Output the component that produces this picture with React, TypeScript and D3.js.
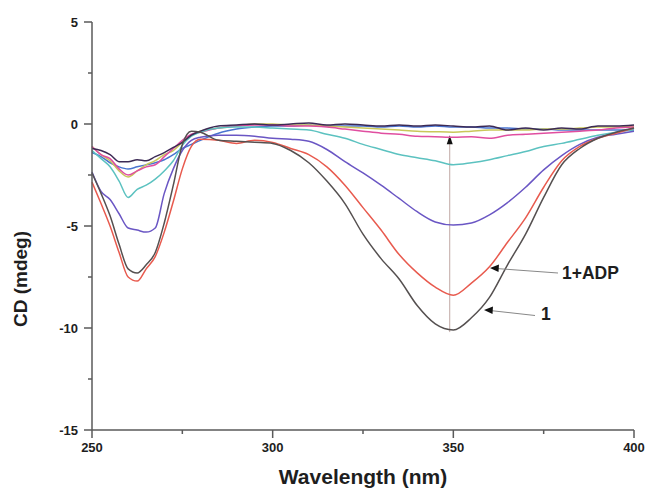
import React from "react";
import * as d3 from "d3";

const wavelengths = [250, 252.5, 255, 257.5, 260, 262.5, 265, 267.5, 270, 272.5, 275, 277.5, 280, 285, 290, 295, 300, 305, 310, 315, 320, 325, 330, 335, 340, 345, 350, 355, 360, 365, 370, 375, 380, 385, 390, 395, 400];

const seriesBlue = [-1.4, -1.6, -1.9, -2.1, -2.2, -2.1, -2.0, -1.9, -1.75, -1.5, -1.2, -1.0, -0.8, -0.45, -0.25, -0.15, -0.1, -0.1, -0.05, -0.1, -0.1, -0.1, -0.15, -0.1, -0.15, -0.1, -0.15, -0.15, -0.2, -0.2, -0.25, -0.25, -0.3, -0.3, -0.3, -0.3, -0.3];
const seriesOlive = [-1.1, -1.5, -1.8, -2.3, -2.6, -2.3, -2.0, -1.8, -1.5, -1.3, -0.9, -0.55, -0.35, -0.2, -0.1, 0, 0, -0.05, -0.05, -0.1, -0.15, -0.2, -0.25, -0.3, -0.35, -0.38, -0.4, -0.35, -0.3, -0.3, -0.3, -0.25, -0.25, -0.2, -0.15, -0.15, -0.1];
const seriesPink = [-1.1, -1.5, -1.7, -2.2, -2.5, -2.3, -2.1, -2.0, -1.6, -1.2, -0.8, -0.5, -0.4, -0.2, -0.1, -0.05, -0.05, -0.1, -0.1, -0.15, -0.25, -0.35, -0.45, -0.5, -0.6, -0.62, -0.65, -0.62, -0.7, -0.55, -0.5, -0.45, -0.4, -0.35, -0.3, -0.2, -0.15];
const seriesTeal = [-1.3, -1.7, -2.1, -2.8, -3.6, -3.2, -3.0, -2.7, -2.3, -1.8, -1.05, -0.6, -0.4, -0.2, -0.15, -0.15, -0.2, -0.25, -0.3, -0.5, -0.7, -1.0, -1.25, -1.5, -1.65, -1.8, -2.0, -1.9, -1.75, -1.55, -1.35, -1.1, -0.95, -0.75, -0.55, -0.4, -0.3];
const seriesViolet = [-2.35, -3.3, -3.7, -4.4, -5.1, -5.2, -5.3, -5.1, -3.4, -2.2, -1.3, -0.8, -0.65, -0.55, -0.55, -0.6, -0.7, -0.75, -0.85, -1.25, -1.85, -2.4, -3.0, -3.65, -4.3, -4.8, -4.95, -4.85, -4.45, -3.85, -3.1, -2.25, -1.55, -1.0, -0.65, -0.5, -0.35];
const seriesTop = [-1.2, -1.3, -1.5, -1.85, -1.85, -1.75, -1.8, -1.6, -1.4, -1.15, -0.9, -0.55, -0.35, -0.1, -0.05, 0.0, -0.05, 0.0, 0.05, -0.05, 0.0, -0.05, -0.1, -0.05, -0.1, -0.05, -0.1, -0.15, -0.1, -0.3, -0.2, -0.3, -0.2, -0.25, -0.1, -0.1, -0.05];
const seriesADP = [-2.85, -3.9, -5.0, -6.3, -7.5, -7.7, -7.1, -6.5, -5.3, -3.8, -2.2, -1.1, -0.75, -0.8, -0.95, -0.8, -0.9, -1.2, -1.5, -2.1, -3.0, -4.1, -5.2, -6.4, -7.3, -8.0, -8.4, -7.8, -7.0, -5.8, -4.6, -3.1, -1.8, -1.1, -0.7, -0.45, -0.2];
const seriesOne = [-2.4, -3.4, -4.5, -5.9, -7.1, -7.3, -6.9, -6.3, -4.85, -3.0, -1.0, -0.35, -0.4, -0.8, -0.85, -0.9, -0.95, -1.3, -1.9, -2.8, -3.9, -5.4, -6.6, -7.6, -8.9, -9.8, -10.1, -9.5, -8.5, -6.9, -5.4, -3.6, -2.0, -1.2, -0.7, -0.4, -0.2];

const seriesList = [
  { values: seriesBlue, color: "#4a74d0" },
  { values: seriesOlive, color: "#c9c75a" },
  { values: seriesPink, color: "#e04ea0" },
  { values: seriesTeal, color: "#5cc2c0" },
  { values: seriesViolet, color: "#6a56c4" },
  { values: seriesTop, color: "#3c2a55" },
  { values: seriesADP, color: "#e85a4e" },
  { values: seriesOne, color: "#555050" },
];

const xMajorTicks = [250, 300, 350, 400];
const xMinorTicks = [275, 325, 375];
const yMajorTicks = [5, 0, -5, -10, -15];
const yMinorTicks = [2.5, -2.5, -7.5, -12.5];

const arrowWavelength = 349;
const arrowFrom = -10.2;
const arrowTo = -0.55;

const FONT = "'Liberation Sans', Arial, Helvetica, sans-serif";

export default function App() {
  const x = d3.scaleLinear().domain([250, 400]).range([92, 634]);
  const y = d3.scaleLinear().domain([-15, 5]).range([430, 22]);
  const line = d3
    .line<number>()
    .x((_, i) => x(wavelengths[i]))
    .y((d) => y(d))
    .curve(d3.curveMonotoneX);

  const axisColor = "#5a5a5a";
  const textColor = "#1e1e1e";

  const ax = x(arrowWavelength);
  const ay1 = y(arrowFrom);
  const ay2 = y(arrowTo);

  return (
    <svg
      width={649}
      height={493}
      style={{ position: "absolute", left: 0, top: 0, background: "#fff" }}
      fontFamily={FONT}
    >
      <rect x={0} y={0} width={649} height={493} fill="#ffffff" />
      {/* arrow line */}
      <line x1={ax} x2={ax} y1={ay1} y2={ay2 + 6} stroke="#c0a8a4" strokeWidth={1} />
      <path d={`M${ax},${ay2} L${ax - 3},${ay2 + 9} L${ax + 3},${ay2 + 9} Z`} fill="#111" />

      {/* curves */}
      {seriesList.map((s, i) => (
        <path
          key={i}
          d={line(s.values) || ""}
          fill="none"
          stroke={s.color}
          strokeWidth={1.5}
          strokeLinejoin="round"
        />
      ))}

      {/* axes */}
      <line x1={x(250)} x2={x(250)} y1={y(5)} y2={y(-15)} stroke={axisColor} strokeWidth={1.5} />
      <line x1={x(250)} x2={x(400)} y1={y(-15)} y2={y(-15)} stroke={axisColor} strokeWidth={1.5} />
      {yMajorTicks.map((t) => (
        <g key={"ym" + t}>
          <line x1={x(250) - 8} x2={x(250)} y1={y(t)} y2={y(t)} stroke={axisColor} strokeWidth={1.5} />
          <text
            x={x(250) - 14}
            y={y(t)}
            dy="0.35em"
            textAnchor="end"
            fontSize={13}
            fontWeight="bold"
            fill={textColor}
          >
            {t}
          </text>
        </g>
      ))}
      {yMinorTicks.map((t) => (
        <line key={"yn" + t} x1={x(250) - 4} x2={x(250)} y1={y(t)} y2={y(t)} stroke={axisColor} strokeWidth={1.5} />
      ))}
      {xMajorTicks.map((t) => (
        <g key={"xm" + t}>
          <line x1={x(t)} x2={x(t)} y1={y(-15)} y2={y(-15) + 8} stroke={axisColor} strokeWidth={1.5} />
          <text
            x={x(t)}
            y={y(-15) + 22}
            textAnchor="middle"
            fontSize={13}
            fontWeight="bold"
            fill={textColor}
          >
            {t}
          </text>
        </g>
      ))}
      {xMinorTicks.map((t) => (
        <line key={"xn" + t} x1={x(t)} x2={x(t)} y1={y(-15)} y2={y(-15) + 4} stroke={axisColor} strokeWidth={1.5} />
      ))}

      {/* axis titles */}
      <text
        x={(x(250) + x(400)) / 2}
        y={484}
        textAnchor="middle"
        fontSize={21}
        fontWeight="bold"
        fill={textColor}
      >
        Wavelength (nm)
      </text>
      <text
        transform={`translate(27,${(y(5) + y(-15)) / 2 + 53}) rotate(-90)`}
        textAnchor="middle"
        fontSize={19}
        fontWeight="bold"
        fill={textColor}
      >
        CD (mdeg)
      </text>

      {/* annotations */}
      <line x1={496} y1={268.5} x2={558} y2={273} stroke="#888" strokeWidth={1} />
      <path d="M490,268 L499,264.5 L498.5,272 Z" fill="#111" />
      <text x={562} y={279} fontSize={17.5} fontWeight="bold" fill={textColor}>
        1+ADP
      </text>
      <line x1={490} y1={310.5} x2={535} y2={315.5} stroke="#888" strokeWidth={1} />
      <path d="M484,310 L493,306.5 L492.5,314 Z" fill="#111" />
      <text x={541} y={320} fontSize={17.5} fontWeight="bold" fill={textColor}>
        1
      </text>
    </svg>
  );
}
